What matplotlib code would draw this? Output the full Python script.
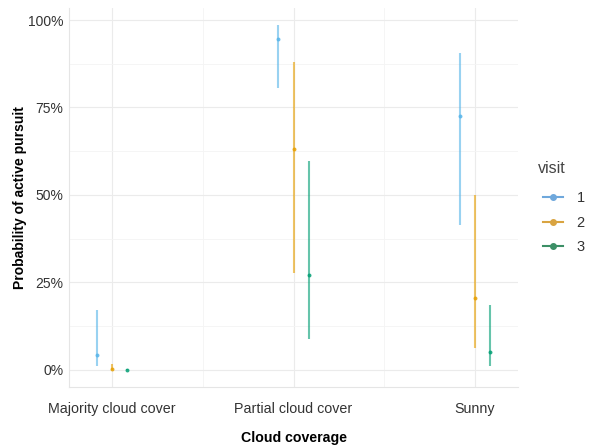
import numpy as np
import matplotlib.pyplot as plt
from matplotlib.lines import Line2D

plt.rcParams['font.family'] = ['Liberation Sans', 'DejaVu Sans']

categories = ["Majority cloud cover", "Partial cloud cover", "Sunny"]
visits = ["1", "2", "3"]

# estimated probability, lower and upper bound per visit (one value per category)
est = {
    "1": [0.043, 0.946, 0.725],
    "2": [0.002, 0.630, 0.204],
    "3": [0.000, 0.272, 0.052],
}
lower = {
    "1": [0.010, 0.807, 0.415],
    "2": [0.000, 0.277, 0.062],
    "3": [0.000, 0.088, 0.012],
}
upper = {
    "1": [0.172, 0.986, 0.905],
    "2": [0.017, 0.880, 0.500],
    "3": [0.003, 0.596, 0.185],
}

colors = {"1": "#56B4E9", "2": "#E69F00", "3": "#009E73"}
legend_colors = {"1": "#6FA8DC", "2": "#D9A441", "3": "#3C8F66"}
offsets = {"1": -0.085, "2": 0.0, "3": 0.085}

fig = plt.figure(figsize=(5.91, 4.45), dpi=100)
ax = fig.add_axes([0.1168, 0.1303, 0.7597, 0.8522])

x = np.arange(len(categories))
for v in visits:
    xs = x + offsets[v]
    ax.vlines(xs, lower[v], upper[v], color=colors[v], alpha=0.6, lw=1.5, zorder=3)
    ax.scatter(xs, est[v], color=colors[v], s=8, alpha=0.85, zorder=4, linewidths=0)

ax.set_xlim(-0.237, 2.237)
ax.set_ylim(-0.0493, 1.035)
ax.set_xticks(x)
ax.set_xticklabels(categories)
ax.set_xticks([0.5, 1.5], minor=True)
yt = [0, 0.25, 0.5, 0.75, 1.0]
ax.set_yticks(yt)
ax.set_yticklabels(["0%", "25%", "50%", "75%", "100%"])
ax.set_yticks([0.125, 0.375, 0.625, 0.875], minor=True)

ax.grid(True, which='major', color='#ebebeb', lw=0.8, zorder=0)
ax.grid(True, which='minor', color='#f4f4f4', lw=0.6, zorder=0)
ax.set_axisbelow(True)
for s in ['top', 'right']:
    ax.spines[s].set_visible(False)
for s in ['left', 'bottom']:
    ax.spines[s].set_color('#e5e5e5')
    ax.spines[s].set_linewidth(0.8)
ax.tick_params(which='both', length=0)
ax.tick_params(axis='x', labelsize=10.3, labelcolor='#333333', pad=10.5)
ax.tick_params(axis='y', labelsize=10, labelcolor='#333333', pad=4)

ax.set_xlabel("Cloud coverage", fontsize=10.2, fontweight='bold', labelpad=11)
ax.set_ylabel("Probability of active pursuit", fontsize=10, fontweight='bold', labelpad=0.5)

fig.text(538 / 591, 1 - 168 / 445, "visit", fontsize=11.5, color='#444444',
         ha='left', va='center')
handles = [Line2D([0], [0], color=legend_colors[v], lw=1.5, marker='o', markersize=4)
           for v in visits]
leg = fig.legend(handles, visits, loc='upper left',
                 bbox_to_anchor=(0.909, 0.583), frameon=False, fontsize=10.5,
                 handlelength=1.4, labelspacing=0.72,
                 handletextpad=0.9, borderaxespad=0)
for t in leg.get_texts():
    t.set_color('#333333')

fig.savefig("out.png", dpi=100)
